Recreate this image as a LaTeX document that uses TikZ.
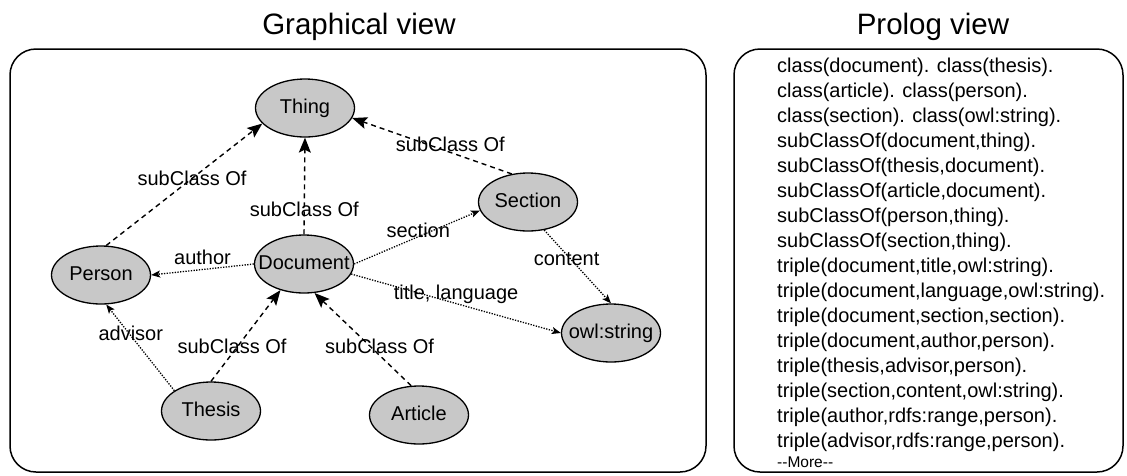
\documentclass[tikz,border=0pt]{standalone}
\usepackage{fontspec}
\setmainfont{Liberation Sans}
\usepackage{tikz}
\usetikzlibrary{shapes.geometric,arrows.meta,positioning}

\definecolor{clsgray}{RGB}{200,200,200}

\begin{document}
\begin{tikzpicture}[
    x=1pt, y=-1pt,
    font=\fontsize{20}{25}\selectfont,
    view/.style={draw=black, line width=1.5pt, rounded corners=26pt},
    viewtitle/.style={anchor=base, font=\fontsize{29.5}{32}\selectfont},
    cls/.style={ellipse, draw=black, line width=1.3pt, fill=clsgray, minimum width=99pt, minimum height=58pt, inner xsep=-11pt, inner ysep=0pt, text height=14.5pt, text depth=4pt},
    subc/.style={line width=1.4pt, dash pattern=on 5pt off 4pt, -{Stealth[length=15pt, width=12pt, inset=3pt]}},
    prop/.style={line width=1.3pt, dash pattern=on 1.3pt off 1.4pt, -{Stealth[length=9pt, width=7pt, inset=2pt]}},
    lbl/.style={inner sep=0pt, text height=14.5pt, text depth=4pt},
    code/.style={anchor=base west, inner sep=0pt}
]
    \useasboundingbox (0,0) rectangle (1127,475);

    % Graphical view (Left)
    \node[viewtitle] (gtitle) at (359,34) {Graphical view};
    \draw[view] (10,49) rectangle (706,472);

    \node[cls] (thing) at (305,108) {Thing};
    \node[cls] (section) at (528,202) {Section};
    \node[cls] (person) at (101,275) {Person};
    \node[cls] (document) at (304,264) {Document};
    \node[cls] (owlstr) at (611,333) {owl:string};
    \node[cls] (thesis) at (211,411) {Thesis};
    \node[cls] (article) at (419,415) {Article};

    % subClass Of edges
    \draw[subc] (person.80) -- node[lbl, pos=0.55, yshift=-2pt] (l1) {subClass Of} (thing.200);
    \draw[subc] (document.north) -- node[lbl, pos=0.24] (l2) {subClass Of} (thing.south);
    \draw[subc] (section.120) -- node[lbl, pos=0.385, yshift=6pt] (l3) {subClass Of} (thing.348);
    \draw[subc] (thesis.north) -- node[lbl, pos=0.36, xshift=-4pt] (l4) {subClass Of} (document.228);
    \draw[subc] (article.105) -- node[lbl, pos=0.40, xshift=7pt] (l5) {subClass Of} (document.290);

    % Property edges
    \draw[prop] (document.west) -- node[lbl, pos=0.5, above] (l6) {author} (person.east);
    \draw[prop] (document.east) -- node[lbl, pos=0.51, yshift=4pt] (l7) {section} (section.190);
    \draw[prop] (document.348) -- node[lbl, pos=0.5, yshift=9pt] (l8) {title, language} (owlstr.west);
    \draw[prop] (section.300) -- node[lbl, pos=0.41, xshift=-5pt] (l9) {content} (owlstr.north);
    \draw[prop] (thesis.151) -- node[lbl, pos=0.64] (l10) {advisor} (person.280);

    % Prolog view (Right)
    \node[viewtitle] (ptitle) at (933,34) {Prolog view};
    \draw[view] (734,49) rectangle (1123,472);

    \foreach \fact [count=\i from 0] in {
        {class(document). class(thesis).},
        {class(article). class(person).},
        {class(section). class(owl:string).},
        {subClassOf(document,thing).},
        {subClassOf(thesis,document).},
        {subClassOf(article,document).},
        {subClassOf(person,thing).},
        {subClassOf(section,thing).},
        {triple(document,title,owl:string).},
        {triple(document,language,owl:string).},
        {triple(document,section,section).},
        {triple(document,author,person).},
        {triple(thesis,advisor,person).},
        {triple(section,content,owl:string).},
        {triple(author,rdfs:range,person).},
        {triple(advisor,rdfs:range,person).}}
        \node[code] (fact\i) at (777,{72+25*\i}) {\fact};
    \node[code, font=\fontsize{15.5}{18}\selectfont] (more) at (777,467) {-{}-More-{}-};

\end{tikzpicture}
\end{document}
